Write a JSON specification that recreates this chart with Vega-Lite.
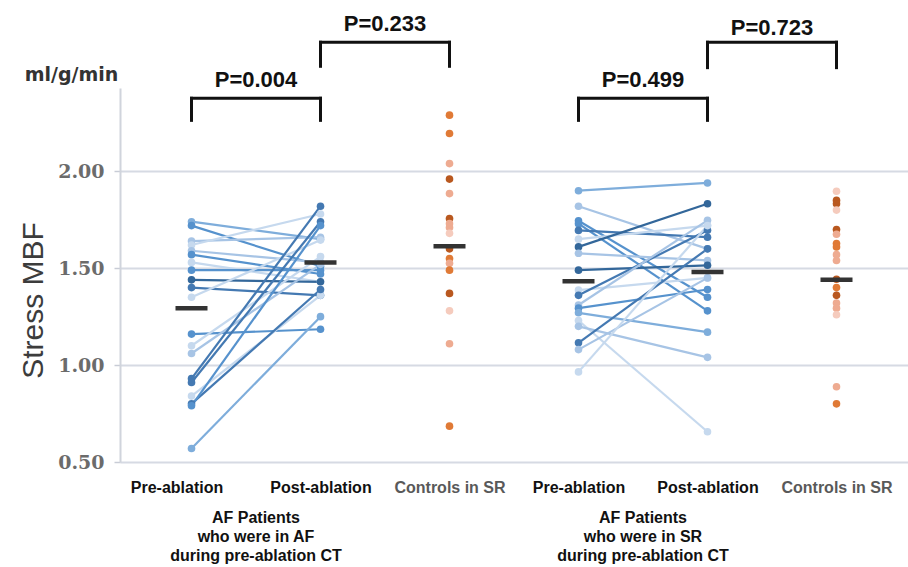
{
  "$schema": "https://vega.github.io/schema/vega-lite/v6.json",
  "width": 788,
  "height": 374,
  "autosize": {"type": "none"},
  "padding": {"left": 120, "top": 88, "right": 0, "bottom": 105},
  "background": "white",
  "config": {
    "view": {"stroke": null},
    "axisX": {"domain": false, "ticks": false, "grid": false, "title": null,
      "labelFont": "Liberation Sans", "labelFontSize": 16, "labelFontWeight": "bold",
      "labelPadding": 17, "labelAngle": 0,
      "labelColor": {"condition": {"test": "indexof(datum.value, 'Ctrl') >= 0", "value": "#595959"}, "value": "#111111"},
      "labelOffset": {"condition": {"test": "datum.value == 'AF-Pre'", "value": -15}, "value": 0}},
    "axisY": {"grid": true, "gridColor": "#d6dae3", "gridWidth": 2, "domain": true, "domainColor": "#d0d4dc", "domainWidth": 2,
      "ticks": true, "tickColor": "#c8ccd6", "tickSize": 6, "tickWidth": 1.5,
      "labelFont": "DejaVu Serif", "labelFontWeight": "bold", "labelFontSize": 19, "labelColor": "#6b6b6b", "labelPadding": 10,
      "titleFont": "Liberation Sans", "titleFontSize": 30, "titleFontWeight": "normal", "titleColor": "#3c3c3c",
      "titleX": -72, "titleY": 212}
  },
  "datasets": {
    "pts": [
      {"kind": "patient", "id": "a1", "col": "AF-Pre", "v": 1.74, "shade": "b3"}, {"kind": "patient", "id": "a1", "col": "AF-Post", "v": 1.65, "shade": "b3"},
      {"kind": "patient", "id": "a2", "col": "AF-Pre", "v": 1.72, "shade": "b4"}, {"kind": "patient", "id": "a2", "col": "AF-Post", "v": 1.51, "shade": "b4"},
      {"kind": "patient", "id": "a3", "col": "AF-Pre", "v": 1.64, "shade": "b2"}, {"kind": "patient", "id": "a3", "col": "AF-Post", "v": 1.66, "shade": "b2"},
      {"kind": "patient", "id": "a4", "col": "AF-Pre", "v": 1.62, "shade": "b1"}, {"kind": "patient", "id": "a4", "col": "AF-Post", "v": 1.78, "shade": "b1"},
      {"kind": "patient", "id": "a5", "col": "AF-Pre", "v": 1.59, "shade": "b2"}, {"kind": "patient", "id": "a5", "col": "AF-Post", "v": 1.53, "shade": "b2"},
      {"kind": "patient", "id": "a6", "col": "AF-Pre", "v": 1.57, "shade": "b4"}, {"kind": "patient", "id": "a6", "col": "AF-Post", "v": 1.47, "shade": "b4"},
      {"kind": "patient", "id": "a7", "col": "AF-Pre", "v": 1.53, "shade": "b1"}, {"kind": "patient", "id": "a7", "col": "AF-Post", "v": 1.43, "shade": "b1"},
      {"kind": "patient", "id": "a8", "col": "AF-Pre", "v": 1.49, "shade": "b4"}, {"kind": "patient", "id": "a8", "col": "AF-Post", "v": 1.49, "shade": "b4"},
      {"kind": "patient", "id": "a9", "col": "AF-Pre", "v": 1.44, "shade": "b6"}, {"kind": "patient", "id": "a9", "col": "AF-Post", "v": 1.43, "shade": "b6"},
      {"kind": "patient", "id": "a10", "col": "AF-Pre", "v": 1.40, "shade": "b5"}, {"kind": "patient", "id": "a10", "col": "AF-Post", "v": 1.36, "shade": "b5"},
      {"kind": "patient", "id": "a11", "col": "AF-Pre", "v": 1.35, "shade": "b1"}, {"kind": "patient", "id": "a11", "col": "AF-Post", "v": 1.645, "shade": "b1"},
      {"kind": "patient", "id": "a12", "col": "AF-Pre", "v": 1.16, "shade": "b4"}, {"kind": "patient", "id": "a12", "col": "AF-Post", "v": 1.185, "shade": "b4"},
      {"kind": "patient", "id": "a13", "col": "AF-Pre", "v": 1.10, "shade": "b1"}, {"kind": "patient", "id": "a13", "col": "AF-Post", "v": 1.56, "shade": "b1"},
      {"kind": "patient", "id": "a14", "col": "AF-Pre", "v": 1.06, "shade": "b2"}, {"kind": "patient", "id": "a14", "col": "AF-Post", "v": 1.52, "shade": "b2"},
      {"kind": "patient", "id": "a15", "col": "AF-Pre", "v": 0.93, "shade": "b5"}, {"kind": "patient", "id": "a15", "col": "AF-Post", "v": 1.82, "shade": "b5"},
      {"kind": "patient", "id": "a16", "col": "AF-Pre", "v": 0.91, "shade": "b5"}, {"kind": "patient", "id": "a16", "col": "AF-Post", "v": 1.74, "shade": "b5"},
      {"kind": "patient", "id": "a17", "col": "AF-Pre", "v": 0.84, "shade": "b1"}, {"kind": "patient", "id": "a17", "col": "AF-Post", "v": 1.36, "shade": "b1"},
      {"kind": "patient", "id": "a18", "col": "AF-Pre", "v": 0.80, "shade": "b5"}, {"kind": "patient", "id": "a18", "col": "AF-Post", "v": 1.39, "shade": "b5"},
      {"kind": "patient", "id": "a19", "col": "AF-Pre", "v": 0.79, "shade": "b4"}, {"kind": "patient", "id": "a19", "col": "AF-Post", "v": 1.72, "shade": "b4"},
      {"kind": "patient", "id": "a20", "col": "AF-Pre", "v": 0.57, "shade": "b3"}, {"kind": "patient", "id": "a20", "col": "AF-Post", "v": 1.25, "shade": "b3"},

      {"kind": "patient", "id": "s1", "col": "SR-Pre", "v": 1.90, "shade": "b3"}, {"kind": "patient", "id": "s1", "col": "SR-Post", "v": 1.94, "shade": "b3"},
      {"kind": "patient", "id": "s2", "col": "SR-Pre", "v": 1.82, "shade": "b2"}, {"kind": "patient", "id": "s2", "col": "SR-Post", "v": 1.60, "shade": "b2"},
      {"kind": "patient", "id": "s3", "col": "SR-Pre", "v": 1.745, "shade": "b4"}, {"kind": "patient", "id": "s3", "col": "SR-Post", "v": 1.35, "shade": "b4"},
      {"kind": "patient", "id": "s4", "col": "SR-Pre", "v": 1.73, "shade": "b4"}, {"kind": "patient", "id": "s4", "col": "SR-Post", "v": 1.28, "shade": "b4"},
      {"kind": "patient", "id": "s5", "col": "SR-Pre", "v": 1.695, "shade": "b5"}, {"kind": "patient", "id": "s5", "col": "SR-Post", "v": 1.66, "shade": "b5"},
      {"kind": "patient", "id": "s6", "col": "SR-Pre", "v": 1.65, "shade": "b1"}, {"kind": "patient", "id": "s6", "col": "SR-Post", "v": 1.72, "shade": "b1"},
      {"kind": "patient", "id": "s7", "col": "SR-Pre", "v": 1.61, "shade": "b6"}, {"kind": "patient", "id": "s7", "col": "SR-Post", "v": 1.833, "shade": "b6"},
      {"kind": "patient", "id": "s8", "col": "SR-Pre", "v": 1.577, "shade": "b2"}, {"kind": "patient", "id": "s8", "col": "SR-Post", "v": 1.54, "shade": "b2"},
      {"kind": "patient", "id": "s9", "col": "SR-Pre", "v": 1.49, "shade": "b6"}, {"kind": "patient", "id": "s9", "col": "SR-Post", "v": 1.515, "shade": "b6"},
      {"kind": "patient", "id": "s10", "col": "SR-Pre", "v": 1.387, "shade": "b1"}, {"kind": "patient", "id": "s10", "col": "SR-Post", "v": 1.45, "shade": "b1"},
      {"kind": "patient", "id": "s11", "col": "SR-Pre", "v": 1.36, "shade": "b5"}, {"kind": "patient", "id": "s11", "col": "SR-Post", "v": 1.696, "shade": "b5"},
      {"kind": "patient", "id": "s12", "col": "SR-Pre", "v": 1.31, "shade": "b2"}, {"kind": "patient", "id": "s12", "col": "SR-Post", "v": 1.747, "shade": "b2"},
      {"kind": "patient", "id": "s13", "col": "SR-Pre", "v": 1.294, "shade": "b4"}, {"kind": "patient", "id": "s13", "col": "SR-Post", "v": 1.39, "shade": "b4"},
      {"kind": "patient", "id": "s14", "col": "SR-Pre", "v": 1.27, "shade": "b3"}, {"kind": "patient", "id": "s14", "col": "SR-Post", "v": 1.17, "shade": "b3"},
      {"kind": "patient", "id": "s15", "col": "SR-Pre", "v": 1.23, "shade": "b1"}, {"kind": "patient", "id": "s15", "col": "SR-Post", "v": 0.656, "shade": "b1"},
      {"kind": "patient", "id": "s16", "col": "SR-Pre", "v": 1.20, "shade": "b2"}, {"kind": "patient", "id": "s16", "col": "SR-Post", "v": 1.04, "shade": "b2"},
      {"kind": "patient", "id": "s17", "col": "SR-Pre", "v": 1.115, "shade": "b5"}, {"kind": "patient", "id": "s17", "col": "SR-Post", "v": 1.60, "shade": "b5"},
      {"kind": "patient", "id": "s18", "col": "SR-Pre", "v": 1.08, "shade": "b2"}, {"kind": "patient", "id": "s18", "col": "SR-Post", "v": 1.45, "shade": "b2"},
      {"kind": "patient", "id": "s19", "col": "SR-Pre", "v": 0.965, "shade": "b1"}, {"kind": "patient", "id": "s19", "col": "SR-Post", "v": 1.72, "shade": "b1"},

      {"kind": "control", "id": "c1", "col": "AF-Ctrl", "v": 2.29, "shade": "o3"},
      {"kind": "control", "id": "c2", "col": "AF-Ctrl", "v": 2.195, "shade": "o3"},
      {"kind": "control", "id": "c3", "col": "AF-Ctrl", "v": 2.04, "shade": "o2"},
      {"kind": "control", "id": "c4", "col": "AF-Ctrl", "v": 1.96, "shade": "o4"},
      {"kind": "control", "id": "c5", "col": "AF-Ctrl", "v": 1.885, "shade": "o2"},
      {"kind": "control", "id": "c6", "col": "AF-Ctrl", "v": 1.756, "shade": "o4"},
      {"kind": "control", "id": "c7", "col": "AF-Ctrl", "v": 1.73, "shade": "o2"},
      {"kind": "control", "id": "c8", "col": "AF-Ctrl", "v": 1.71, "shade": "o2"},
      {"kind": "control", "id": "c9", "col": "AF-Ctrl", "v": 1.68, "shade": "o1"},
      {"kind": "control", "id": "c10", "col": "AF-Ctrl", "v": 1.60, "shade": "o4"},
      {"kind": "control", "id": "c11", "col": "AF-Ctrl", "v": 1.55, "shade": "o3"},
      {"kind": "control", "id": "c12", "col": "AF-Ctrl", "v": 1.525, "shade": "o2"},
      {"kind": "control", "id": "c13", "col": "AF-Ctrl", "v": 1.49, "shade": "o3"},
      {"kind": "control", "id": "c14", "col": "AF-Ctrl", "v": 1.37, "shade": "o4"},
      {"kind": "control", "id": "c15", "col": "AF-Ctrl", "v": 1.28, "shade": "o1"},
      {"kind": "control", "id": "c16", "col": "AF-Ctrl", "v": 1.11, "shade": "o2"},
      {"kind": "control", "id": "c17", "col": "AF-Ctrl", "v": 0.685, "shade": "o3"},

      {"kind": "control", "id": "d1", "col": "SR-Ctrl", "v": 1.897, "shade": "o1"},
      {"kind": "control", "id": "d2", "col": "SR-Ctrl", "v": 1.85, "shade": "o4"},
      {"kind": "control", "id": "d3", "col": "SR-Ctrl", "v": 1.833, "shade": "o4"},
      {"kind": "control", "id": "d4", "col": "SR-Ctrl", "v": 1.80, "shade": "o1"},
      {"kind": "control", "id": "d5", "col": "SR-Ctrl", "v": 1.70, "shade": "o4"},
      {"kind": "control", "id": "d6", "col": "SR-Ctrl", "v": 1.675, "shade": "o2"},
      {"kind": "control", "id": "d7", "col": "SR-Ctrl", "v": 1.627, "shade": "o3"},
      {"kind": "control", "id": "d8", "col": "SR-Ctrl", "v": 1.61, "shade": "o3"},
      {"kind": "control", "id": "d9", "col": "SR-Ctrl", "v": 1.57, "shade": "o2"},
      {"kind": "control", "id": "d10", "col": "SR-Ctrl", "v": 1.54, "shade": "o2"},
      {"kind": "control", "id": "d11", "col": "SR-Ctrl", "v": 1.443, "shade": "o4"},
      {"kind": "control", "id": "d12", "col": "SR-Ctrl", "v": 1.40, "shade": "o3"},
      {"kind": "control", "id": "d13", "col": "SR-Ctrl", "v": 1.36, "shade": "o4"},
      {"kind": "control", "id": "d14", "col": "SR-Ctrl", "v": 1.32, "shade": "o2"},
      {"kind": "control", "id": "d15", "col": "SR-Ctrl", "v": 1.294, "shade": "o2"},
      {"kind": "control", "id": "d16", "col": "SR-Ctrl", "v": 1.26, "shade": "o1"},
      {"kind": "control", "id": "d17", "col": "SR-Ctrl", "v": 0.888, "shade": "o2"},
      {"kind": "control", "id": "d18", "col": "SR-Ctrl", "v": 0.80, "shade": "o3"}
    ],
    "means": [
      {"col": "AF-Pre", "v": 1.294}, {"col": "AF-Post", "v": 1.53}, {"col": "AF-Ctrl", "v": 1.613},
      {"col": "SR-Pre", "v": 1.433}, {"col": "SR-Post", "v": 1.48}, {"col": "SR-Ctrl", "v": 1.44}
    ],
    "brackets": [
      {"from": "AF-Pre", "to": "AF-Post", "top": 2.377, "leg": 2.263, "label": "P=0.004", "ly": 2.47},
      {"from": "AF-Post", "to": "AF-Ctrl", "top": 2.666, "leg": 2.542, "label": "P=0.233", "ly": 2.76},
      {"from": "SR-Pre", "to": "SR-Post", "top": 2.377, "leg": 2.263, "label": "P=0.499", "ly": 2.47},
      {"from": "SR-Post", "to": "SR-Ctrl", "top": 2.666, "leg": 2.535, "label": "P=0.723", "ly": 2.74}
    ],
    "groups": [
      {"col": "AF-Pre", "label": "AF Patients\nwho were in AF\nduring pre-ablation CT"},
      {"col": "SR-Pre", "label": "AF Patients\nwho were in SR\nduring pre-ablation CT"}
    ],
    "unit": [
      {"col": "AF-Pre", "label": "ml/g/min"}
    ]
  },
  "layer": [
    {
      "data": {"name": "pts"},
      "transform": [{"filter": "datum.kind == 'patient'"}],
      "mark": {"type": "line", "strokeWidth": 2.2},
      "encoding": {
        "x": {"field": "col", "type": "nominal",
          "scale": {"type": "point", "domain": ["AF-Pre", "AF-Post", "AF-Ctrl", "SR-Pre", "SR-Post", "SR-Ctrl"], "padding": 0.5543},
          "axis": {"title": null, "labelExpr": "indexof(datum.value, 'Post') >= 0 ? 'Post-ablation' : indexof(datum.value, 'Pre') >= 0 ? 'Pre-ablation' : 'Controls in SR'"}},
        "y": {"field": "v", "type": "quantitative",
          "scale": {"domain": [0.5, 2.43], "nice": false, "zero": false},
          "axis": {"title": "Stress MBF", "values": [0.5, 1, 1.5, 2], "format": ".2f"}},
        "color": {"field": "shade", "type": "nominal", "legend": null,
          "scale": {"domain": ["b1", "b2", "b3", "b4", "b5", "b6", "o1", "o2", "o3", "o4"],
            "range": ["#c6d9ee", "#a7c4e5", "#7eaddb", "#5692cd", "#4479b2", "#33679a", "#f5cbbd", "#eeab91", "#e07a36", "#b9581f"]}},
        "detail": {"field": "id"}
      }
    },
    {
      "data": {"name": "pts"},
      "mark": {"type": "circle", "size": 58, "opacity": 1},
      "encoding": {
        "x": {"field": "col", "type": "nominal"},
        "y": {"field": "v", "type": "quantitative"},
        "color": {"field": "shade", "type": "nominal", "legend": null}
      }
    },
    {
      "data": {"name": "means"},
      "mark": {"type": "tick", "size": 32, "thickness": 4.5, "color": "#333333", "opacity": 1},
      "encoding": {
        "x": {"field": "col", "type": "nominal"},
        "y": {"field": "v", "type": "quantitative"}
      }
    },
    {
      "data": {"name": "brackets"},
      "mark": {"type": "rule", "strokeWidth": 3, "color": "#111111", "strokeCap": "square"},
      "encoding": {
        "x": {"field": "from", "type": "nominal"},
        "x2": {"field": "to"},
        "y": {"field": "top", "type": "quantitative"}
      }
    },
    {
      "data": {"name": "brackets"},
      "mark": {"type": "rule", "strokeWidth": 3, "color": "#111111", "strokeCap": "square"},
      "encoding": {
        "x": {"field": "from", "type": "nominal"},
        "y": {"field": "top", "type": "quantitative"},
        "y2": {"field": "leg"}
      }
    },
    {
      "data": {"name": "brackets"},
      "mark": {"type": "rule", "strokeWidth": 3, "color": "#111111", "strokeCap": "square"},
      "encoding": {
        "x": {"field": "to", "type": "nominal"},
        "y": {"field": "top", "type": "quantitative"},
        "y2": {"field": "leg"}
      }
    },
    {
      "data": {"name": "brackets"},
      "mark": {"type": "text", "dx": 64.5, "align": "center", "baseline": "middle", "font": "Liberation Sans", "fontSize": 22, "fontWeight": "bold", "color": "#111111"},
      "encoding": {
        "x": {"field": "from", "type": "nominal"},
        "y": {"field": "ly", "type": "quantitative"},
        "text": {"field": "label"}
      }
    },
    {
      "data": {"name": "groups"},
      "mark": {"type": "text", "dx": 64.5, "dy": 48, "align": "center", "baseline": "top", "lineBreak": "\n", "lineHeight": 19, "font": "Liberation Sans", "fontSize": 16, "fontWeight": "bold", "color": "#111111"},
      "encoding": {
        "x": {"field": "col", "type": "nominal"},
        "y": {"datum": 0.5, "type": "quantitative"},
        "text": {"field": "label"}
      }
    },
    {
      "data": {"name": "unit"},
      "mark": {"type": "text", "dx": -120, "dy": -13, "align": "center", "baseline": "middle", "font": "DejaVu Sans", "fontSize": 19, "fontWeight": "bold", "color": "#333333"},
      "encoding": {
        "x": {"field": "col", "type": "nominal"},
        "y": {"datum": 2.43, "type": "quantitative"},
        "text": {"field": "label"}
      }
    }
  ]
}
